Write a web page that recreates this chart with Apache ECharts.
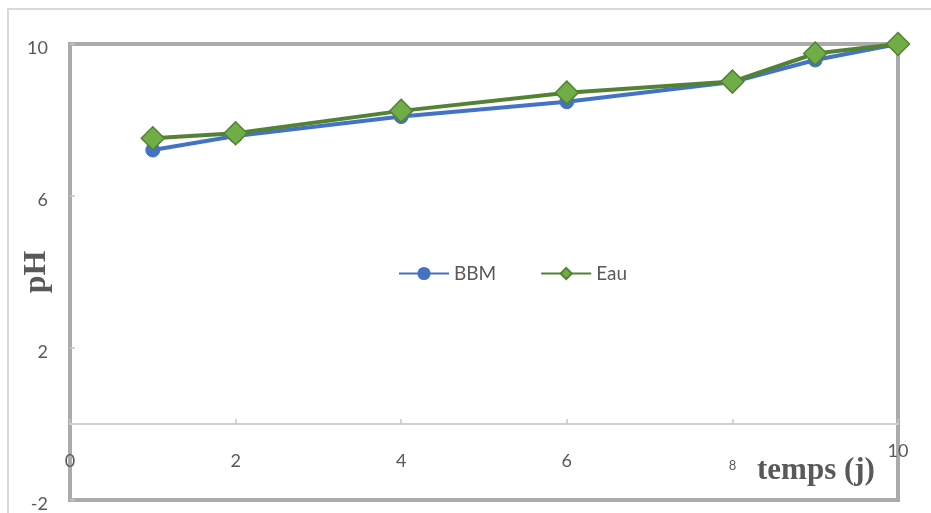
<!DOCTYPE html>
<html>
<head>
<meta charset="utf-8">
<script src="https://cdn.jsdelivr.net/npm/echarts@6/dist/echarts.min.js"></script>
<style>
  html, body { margin: 0; padding: 0; background: #ffffff; }
  #chart { width: 931px; height: 513px; }
</style>
</head>
<body>
<div id="chart"></div>
<script>
// Sampling days and measured pH for each medium
const days = [1, 2, 4, 6, 8, 9, 10];
const phBBM = [7.21, 7.58, 8.09, 8.48, 9.0, 9.58, 10.0];
const phEau = [7.52, 7.65, 8.24, 8.72, 9.01, 9.75, 10.0];
const seriesNames = ['BBM', 'Eau'];
const xTicks = [0, 2, 4, 6, 8, 10];
const yTicks = [-2, 2, 6, 10];

const toPairs = (xs, ys) => xs.map((x, i) => [x, ys[i]]);

const chart = echarts.init(document.getElementById('chart'), null, { renderer: 'canvas' });

const baseFont = 'Lato, "Open Sans", sans-serif';

chart.setOption({
  animation: false,
  backgroundColor: '#ffffff',
  grid: {
    left: 70, right: 33, top: 44, bottom: 13,
    containLabel: false,
    outerBoundsMode: 'none',
    show: true,
    borderColor: '#ababab',
    borderWidth: 4,
    backgroundColor: 'transparent'
  },
  legend: {
    left: 393,
    top: 259,
    itemWidth: 50,
    itemHeight: 14,
    itemGap: 44,
    data: seriesNames,
    textStyle: { color: '#595959', fontSize: 19, fontFamily: baseFont }
  },
  xAxis: {
    type: 'value',
    min: xTicks[0],
    max: xTicks[xTicks.length - 1],
    interval: 2,
    axisLine: { onZero: true, lineStyle: { color: '#d0d0d0', width: 2 } },
    axisTick: { inside: true, length: 5, lineStyle: { color: '#c8c8c8', width: 1.5 } },
    splitLine: { show: false },
    axisLabel: {
      // labels sit in the band between the zero line and the bottom border
      margin: -58,
      verticalAlign: 'top',
      formatter: function (v) {
        if (v === 8) return '{s|' + v + '}';
        if (v === 10) return '{t|' + v + '}';
        return '{n|' + v + '}';
      },
      rich: {
        n: { color: '#595959', fontSize: 18, fontFamily: baseFont, padding: [10, 0, 0, 0] },
        s: { color: '#595959', fontSize: 13, fontFamily: baseFont, padding: [17, 0, 0, 0] },
        t: { color: '#595959', fontSize: 18, fontFamily: baseFont, padding: [0, 0, 0, 0] }
      }
    }
  },
  yAxis: {
    type: 'value',
    min: yTicks[0],
    max: yTicks[yTicks.length - 1],
    interval: 4,
    axisLine: { show: false },
    axisTick: { show: true, inside: true, length: 5, lineStyle: { color: '#c8c8c8', width: 1.5 } },
    splitLine: { show: false },
    axisLabel: {
      margin: 22,
      formatter: function (v) { return '{y|' + v + '}'; },
      rich: {
        y: { color: '#595959', fontSize: 18, fontFamily: baseFont, padding: [8, 0, 0, 0] }
      }
    }
  },
  graphic: [
    {
      type: 'rect',
      silent: true,
      shape: { x: 8, y: 9, width: 960, height: 540 },
      style: { fill: 'none', stroke: '#d9d9d9', lineWidth: 2 }
    },
    {
      type: 'text',
      silent: true,
      x: 37, y: 272,
      rotation: Math.PI / 2,
      style: {
        text: 'pH',
        fill: '#595959',
        font: 'bold 32px "Liberation Serif", "Times New Roman", serif',
        align: 'center',
        verticalAlign: 'middle'
      }
    },
    {
      type: 'text',
      silent: true,
      x: 757, y: 471,
      style: {
        text: 'temps (j)',
        fill: '#595959',
        font: 'bold 31px "Liberation Serif", "Times New Roman", serif',
        align: 'left',
        verticalAlign: 'middle'
      }
    }
  ],
  series: [
    {
      name: seriesNames[0],
      type: 'line',
      data: toPairs(days, phBBM),
      symbol: 'circle',
      symbolSize: 14,
      z: 2,
      lineStyle: { color: '#4472c4', width: 4 },
      itemStyle: { color: '#4472c4', borderColor: '#4472c4', borderWidth: 1 }
    },
    {
      name: seriesNames[1],
      type: 'line',
      data: toPairs(days, phEau),
      symbol: 'diamond',
      symbolSize: 23,
      z: 3,
      lineStyle: { color: '#548235', width: 4 },
      itemStyle: { color: '#70ad47', borderColor: '#548235', borderWidth: 1.5 }
    }
  ]
});
</script>
</body>
</html>
